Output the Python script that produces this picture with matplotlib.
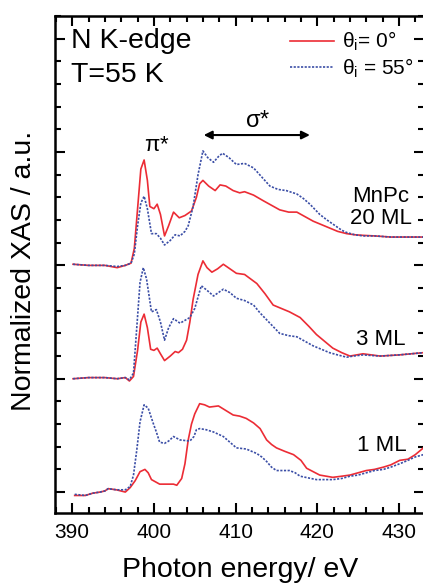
import matplotlib
matplotlib.use('Agg')
import matplotlib.pyplot as plt
from matplotlib.ticker import MultipleLocator

plt.rcParams['font.family'] = ['Liberation Sans', 'DejaVu Sans']
plt.rcParams['mathtext.fontset'] = 'custom'
plt.rcParams['mathtext.rm'] = 'Liberation Sans'
plt.rcParams['mathtext.default'] = 'regular'

# --- data (offset of each stack kept separately) ---
samples = ['20 ML', '3 ML', '1 ML']
offsets = [2, 1, 0]

# 20 ML
e20_red = [390.1, 392, 394, 395.5, 396.5, 397.2, 397.6, 398.0, 398.4, 398.8, 399.2, 399.5, 400.0,
           400.4, 400.8, 401.3, 401.8, 402.4, 403.1, 403.8, 404.6, 405.2, 405.6, 406.0, 406.7,
           407.5, 408.1, 408.8, 409.7, 410.5, 411.1, 412.2, 413.4, 414.4, 415.4, 416.5, 417.5,
           418.5, 419.5, 420.5, 421.5, 422.5, 423.6, 424.6, 425.6, 427, 429, 431, 433]
v20_red = [0.01, 0.0, 0.0, -0.02, 0.0, 0.02, 0.15, 0.5, 0.85, 0.93, 0.75, 0.52, 0.5,
           0.54, 0.45, 0.26, 0.35, 0.47, 0.42, 0.44, 0.48, 0.6, 0.72, 0.75, 0.70,
           0.66, 0.71, 0.70, 0.66, 0.64, 0.65, 0.62, 0.57, 0.53, 0.49, 0.47, 0.47,
           0.43, 0.39, 0.36, 0.33, 0.30, 0.28, 0.27, 0.265, 0.26, 0.25, 0.25, 0.25]
e20_blue = [390.1, 392, 394, 395.5, 396.5, 397.2, 397.6, 398.0, 398.4, 398.8, 399.2, 399.7, 400.3,
            400.8, 401.3, 402.0, 402.6, 403.2, 403.8, 404.2, 404.8, 405.4, 406.0, 406.6, 407.3,
            407.9, 408.4, 409.2, 410.1, 411.1, 412.2, 413.2, 414.2, 415.2, 416.2, 417.5, 418.3,
            419.1, 420.3, 421.2, 422.0, 423.0, 423.6, 424.6, 425.6, 427, 429, 431, 433]
v20_blue = [0.01, 0.0, 0.0, -0.01, 0.0, 0.02, 0.1, 0.35, 0.55, 0.61, 0.5, 0.28, 0.28,
            0.24, 0.18, 0.22, 0.27, 0.26, 0.3, 0.35, 0.52, 0.8, 1.01, 0.95, 0.91,
            0.96, 0.99, 0.95, 0.89, 0.90, 0.86, 0.78, 0.70, 0.67, 0.66, 0.63, 0.59,
            0.54, 0.45, 0.40, 0.36, 0.31, 0.29, 0.27, 0.26, 0.26, 0.25, 0.25, 0.25]

# 3 ML
e3_red = [390.1, 392, 394, 395.5, 396.5, 397.0, 397.5, 398.0, 398.4, 398.8, 399.2, 399.6, 400.0,
          400.4, 400.8, 401.3, 402.0, 402.6, 403.0, 403.5, 404.0, 404.4, 404.8, 405.4, 406.0,
          406.5, 407.1, 407.8, 408.5, 409.3, 410.1, 411.1, 412.6, 413.6, 414.6, 415.6, 416.6,
          417.9, 419.0, 419.9, 420.9, 421.9, 423.0, 424.0, 424.8, 425.6, 427.7, 430, 433]
v3_red = [0.0, 0.01, 0.01, 0.0, 0.01, -0.02, 0.02, 0.25, 0.5, 0.57, 0.45, 0.26, 0.25,
          0.27, 0.22, 0.16, 0.20, 0.24, 0.23, 0.26, 0.34, 0.5, 0.70, 0.92, 1.04,
          0.98, 0.94, 0.97, 1.01, 0.97, 0.93, 0.92, 0.84, 0.75, 0.65, 0.62, 0.59,
          0.54, 0.46, 0.39, 0.33, 0.27, 0.23, 0.20, 0.21, 0.22, 0.20, 0.21, 0.23]
e3_blue = [390.1, 392, 394, 395.5, 396.5, 397.0, 397.5, 397.9, 398.3, 398.7, 399.1, 399.7, 400.3,
           400.8, 401.3, 401.8, 402.4, 403.2, 404.4, 405.0, 405.8, 406.5, 407.3, 407.9, 408.5,
           409.3, 410.1, 411.1, 412.2, 413.0, 413.8, 414.6, 415.4, 416.5, 417.5, 418.5, 419.5,
           420.5, 421.5, 422.5, 423.6, 424.4, 425.6, 427.7, 430, 433]
v3_blue = [0.0, 0.01, 0.01, 0.0, 0.01, -0.01, 0.05, 0.45, 0.85, 0.98, 0.88, 0.59, 0.61,
           0.5, 0.34, 0.45, 0.53, 0.49, 0.54, 0.62, 0.82, 0.78, 0.73, 0.76, 0.79,
           0.76, 0.71, 0.69, 0.65, 0.58, 0.52, 0.46, 0.40, 0.38, 0.37, 0.33, 0.29,
           0.26, 0.23, 0.21, 0.19, 0.20, 0.21, 0.20, 0.21, 0.23]

# 1 ML
e1_red = [390.3, 391.6, 392.5, 393.4, 394.0, 394.4, 395.4, 396.5, 397.1, 397.7, 398.3, 398.9,
          399.3, 399.7, 400.7, 401.5, 402.4, 402.8, 403.4, 403.8, 404.2, 404.6, 405.0, 405.6,
          406.2, 406.8, 407.9, 408.8, 409.7, 410.5, 411.3, 412.2, 413.0, 413.8, 414.4, 415.0,
          416.0, 417.1, 418.0, 418.7, 419.5, 420.3, 421.9, 423.0, 424.0, 425.0, 426.0, 427.0,
          428.1, 429.0, 430.1, 431.1, 432.0, 433.0]
v1_red = [-0.03, -0.03, -0.01, 0.0, 0.01, 0.03, 0.02, 0.0, 0.04, 0.1, 0.18, 0.20,
          0.17, 0.11, 0.07, 0.07, 0.07, 0.06, 0.12, 0.25, 0.46, 0.6, 0.69, 0.78,
          0.77, 0.75, 0.76, 0.72, 0.68, 0.67, 0.65, 0.61, 0.56, 0.46, 0.42, 0.39,
          0.36, 0.33, 0.28, 0.21, 0.18, 0.15, 0.13, 0.14, 0.15, 0.17, 0.19, 0.20,
          0.22, 0.24, 0.28, 0.29, 0.33, 0.39]
e1_blue = [390.3, 391.6, 392.5, 393.4, 394.0, 394.4, 395.4, 396.5, 397.1, 397.5, 397.9, 398.3,
           398.8, 399.3, 399.9, 400.3, 400.7, 401.3, 401.8, 402.4, 403.2, 404.4, 404.9, 405.2,
           405.6, 406.4, 407.3, 408.5, 409.3, 410.1, 411.3, 412.6, 413.2, 413.8, 414.4, 415.0,
           416.6, 417.3, 417.9, 419.9, 421.0, 421.9, 423.0, 424.0, 425.0, 426.0, 427.0, 428.1,
           429.0, 430.1, 431.1, 432.0, 433.0]
v1_blue = [-0.02, -0.03, -0.01, 0.0, 0.01, 0.03, 0.02, 0.02, 0.05, 0.15, 0.37, 0.62,
           0.77, 0.74, 0.61, 0.53, 0.44, 0.43, 0.45, 0.49, 0.46, 0.45, 0.49, 0.55,
           0.56, 0.55, 0.53, 0.49, 0.44, 0.39, 0.38, 0.34, 0.31, 0.27, 0.22, 0.19,
           0.19, 0.17, 0.14, 0.11, 0.11, 0.11, 0.12, 0.14, 0.15, 0.17, 0.19, 0.20,
           0.22, 0.25, 0.28, 0.31, 0.33]

red_e = [e20_red, e3_red, e1_red]
red_v = [v20_red, v3_red, v1_red]
blue_e = [e20_blue, e3_blue, e1_blue]
blue_v = [v20_blue, v3_blue, v1_blue]

red = '#ec2c35'
blue = '#3b4ea6'

fig = plt.figure(figsize=(4.23, 5.83), dpi=100)
ax = fig.add_axes([0.1312, 0.12, 0.871, 0.8525])

for i in range(len(samples)):
    off = offsets[i]
    ax.plot(red_e[i], [v + off for v in red_v[i]], color=red, lw=1.2,
            label=r'$\theta_i$= 0°' if i == 0 else None)
    ax.plot(blue_e[i], [v + off for v in blue_v[i]], color=blue, lw=1.2,
            linestyle=(0, (1.3, 0.9)),
            label=r'$\theta_i$ = 55°' if i == 0 else None)

ax.set_xlim(387.95, 433.06)
ax.set_ylim(-0.185, 4.2)

ax.xaxis.set_major_locator(MultipleLocator(10))
ax.xaxis.set_minor_locator(MultipleLocator(2))
ax.yaxis.set_major_locator(MultipleLocator(1))
ax.yaxis.set_minor_locator(MultipleLocator(0.2))
ax.tick_params(which='both', direction='in', top=True, right=True, width=1.5,
               labelsize=15, pad=7)
ax.tick_params(which='major', length=7)
ax.tick_params(which='minor', length=4)
ax.set_yticklabels([])
for s in ax.spines.values():
    s.set_linewidth(1.8)

ax.set_xlabel('Photon energy/ eV', fontsize=20.5, labelpad=11)
ax.set_ylabel('Normalized XAS / a.u.', fontsize=20.5)
ax.yaxis.set_label_coords(-0.05, 0.487)

ax.text(389.9, 3.98, 'N K-edge', fontsize=20.5, va='center', ha='left')
ax.text(389.9, 3.68, 'T=55 K', fontsize=20.5, va='center', ha='left')

ax.text(400.4, 3.06, r'$\pi$*', fontsize=16, ha='center', va='center')
ax.text(412.7, 3.27, r'$\sigma$*', fontsize=17, ha='center', va='center')
ax.annotate('', xy=(406.1, 3.15), xytext=(419.1, 3.15),
            arrowprops=dict(arrowstyle='<|-|>', color='black', lw=1.5,
                            mutation_scale=12, shrinkA=0, shrinkB=0))

ax.text(427.8, 2.51, 'MnPc\n20 ML', fontsize=16, ha='center', va='center',
        linespacing=1.05)
ax.text(427.8, 1.35, '3 ML', fontsize=16, ha='center', va='center')
ax.text(427.9, 0.415, '1 ML', fontsize=16, ha='center', va='center')

ax.legend(loc='upper left', bbox_to_anchor=(290 / 423, 1 - 30 / 583),
          bbox_transform=fig.transFigure, frameon=False, fontsize=15,
          handlelength=2.1, handletextpad=0.4, labelspacing=0.15,
          borderpad=0, borderaxespad=0)

fig.savefig('out.png', dpi=100)
